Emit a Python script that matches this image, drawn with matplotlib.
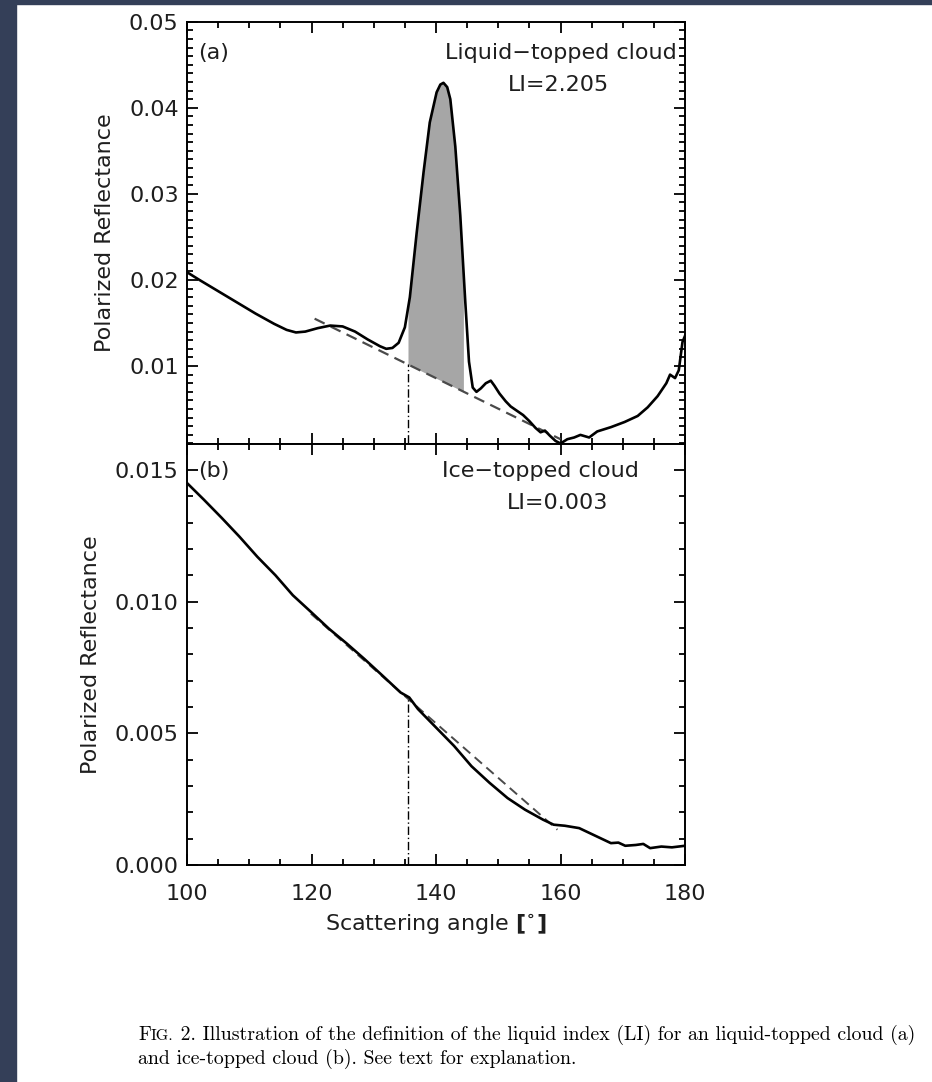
import numpy as np
import matplotlib.pyplot as plt
from matplotlib.patches import Rectangle
from matplotlib.ticker import MultipleLocator, FormatStrFormatter

# (a) liquid-topped cloud: polarized reflectance vs scattering angle
angle_liq = [100, 102, 105, 108, 111, 114, 116, 117.5, 119, 121, 123, 125, 127, 129,
             131, 132, 133, 134, 135, 135.8, 136.9, 138, 139, 140.1, 140.7, 141.2,
             141.8, 142.3, 143.1, 143.9, 144.7, 145.3, 145.9, 146.5, 147.2, 148.0,
             148.8, 149.4, 150.2, 151.2, 152.0, 153.0, 154.0, 155.0, 156.0, 156.8,
             157.5, 158.3, 159.2, 160.0, 161.1, 162.2, 163.2, 164.6, 165.9, 168.1,
             170.3, 172.4, 174.0, 175.6, 177.0, 177.6, 178.4, 179.0, 179.6, 180.0]
refl_liq = [0.0209, 0.0200, 0.0187, 0.0174, 0.0161, 0.0149, 0.0142, 0.0139, 0.0140,
            0.0144, 0.0147, 0.0146, 0.0140, 0.0131, 0.0123, 0.0120, 0.0121, 0.0127,
            0.0145, 0.0180, 0.0255, 0.0325, 0.0383, 0.0418, 0.0427, 0.0429, 0.0424,
            0.0410, 0.0355, 0.0275, 0.0175, 0.0105, 0.0075, 0.0070, 0.0074, 0.0080,
            0.0083, 0.0077, 0.0068, 0.0059, 0.0053, 0.0048, 0.0043, 0.0036, 0.0028,
            0.0023, 0.0025, 0.0019, 0.0013, 0.0010, 0.0015, 0.0017, 0.0020, 0.0017,
            0.0024, 0.0029, 0.0035, 0.0042, 0.0052, 0.0065, 0.0080, 0.0090, 0.0086,
            0.0095, 0.0128, 0.0135]

# (b) ice-topped cloud
angle_ice = [100, 102.7, 105.6, 108.4, 111.3, 114.2, 117.0, 119.9, 122.8, 125.7, 128.5,
             131.4, 134.3, 135.7, 137.1, 140.0, 142.9, 145.7, 148.6, 151.5, 154.3,
             157.2, 158.9, 160.7, 163.0, 164.7, 166.4, 168.1, 169.3, 170.4, 172.1,
             173.3, 174.4, 176.2, 177.9, 180.0]
refl_ice = [0.01450, 0.01387, 0.01317, 0.01247, 0.01170, 0.01100, 0.01024, 0.00961,
            0.00897, 0.00840, 0.00782, 0.00719, 0.00655, 0.00636, 0.00592, 0.00522,
            0.00452, 0.00375, 0.00312, 0.00254, 0.00210, 0.00172, 0.00153, 0.00149,
            0.00140, 0.00121, 0.00102, 0.00083, 0.00085, 0.00073, 0.00076, 0.00080,
            0.00064, 0.00070, 0.00067, 0.00073]

# straight reference lines (end points)
fit_liq_x = [120.5, 160.0]
fit_liq_y = [0.0155, 0.0015]
fit_ice_x = [119.9, 159.5]
fit_ice_y = [0.00954, 0.00134]

li_angle = 135.5
shade_end = 144.4

panel_tags = ['(a)', '(b)']
panel_names = ['Liquid\u2212topped cloud', 'Ice\u2212topped cloud']
li_values = ['LI=2.205', 'LI=0.003']

caption_1 = ' Illustration of the definition of the liquid index (LI) for an liquid-topped cloud (a)'
caption_2 = 'and ice-topped cloud (b). See text for explanation.'

TXT = '#1e1e1e'
W, H = 932, 1082
FS = 16

fig = plt.figure(figsize=(W / 100, H / 100), dpi=100)
fig.patch.set_facecolor('white')
fig.patches.append(Rectangle((0, 0), 16 / W, 1, transform=fig.transFigure,
                             color='#343f58', zorder=0))
fig.patches.append(Rectangle((0, 1 - 4 / H), 1, 4 / H, transform=fig.transFigure,
                             color='#343f58', zorder=0))

left, width = 187 / W, 498 / W
ax1 = fig.add_axes([left, 1 - 443.5 / H, width, (443.5 - 21.7) / H])
ax2 = fig.add_axes([left, 1 - 865 / H, width, (865 - 443.5) / H])

plt.rcParams['font.family'] = 'DejaVu Sans'

for ax in (ax1, ax2):
    ax.set_xlim(100, 180)
    ax.xaxis.set_major_locator(MultipleLocator(20))
    ax.xaxis.set_minor_locator(MultipleLocator(5))
    ax.yaxis.set_minor_locator(MultipleLocator(0.001))
    ax.tick_params(which='both', direction='in', top=True, right=True,
                   width=1.3, colors='black', labelcolor=TXT, labelsize=16)
    ax.tick_params(which='major', length=8)
    ax.tick_params(which='minor', length=4)
    ax.tick_params(axis='y', pad=6)
    ax.tick_params(axis='x', pad=14)
    for s in ax.spines.values():
        s.set_linewidth(1.4)
    ax.set_ylabel('Polarized Reflectance', fontsize=FS, color=TXT, labelpad=10)

# top panel
ax1.set_ylim(0.001, 0.05)
ax1.yaxis.set_major_locator(MultipleLocator(0.01))
ax1.yaxis.set_major_formatter(FormatStrFormatter('%.2f'))
ax1.tick_params(axis='x', labelbottom=False)

xs = np.linspace(li_angle, shade_end, 300)
top = np.interp(xs, angle_liq, refl_liq)
base = np.interp(xs, fit_liq_x, fit_liq_y)
ax1.fill_between(xs, base, top, color='#a6a6a6', lw=0, zorder=1)
ax1.plot(fit_liq_x, fit_liq_y, color='#4a4a4a', lw=1.6, ls=(0, (5, 3)), zorder=2)
ax1.plot(angle_liq, refl_liq, color='black', lw=1.9, zorder=3)
ax1.plot([li_angle, li_angle], [0.001, np.interp(li_angle, fit_liq_x, fit_liq_y)],
         color='black', lw=1.0, ls=(0, (6, 2, 1, 2)), zorder=2)

ax1.text(101.8, 0.0464, panel_tags[0], fontsize=FS, color=TXT, va='center')
ax1.text(178.6, 0.0464, panel_names[0], fontsize=FS, color=TXT, va='center', ha='right')
ax1.text(159.6, 0.0427, li_values[0], fontsize=FS, color=TXT, va='center', ha='center')

# bottom panel
ax2.set_ylim(0, 0.016)
ax2.yaxis.set_major_locator(MultipleLocator(0.005))
ax2.yaxis.set_major_formatter(FormatStrFormatter('%.3f'))
ax2.plot(fit_ice_x, fit_ice_y, color='#4a4a4a', lw=1.4, ls=(0, (5, 3)), zorder=2)
ax2.plot(angle_ice, refl_ice, color='black', lw=1.9, zorder=3)
ax2.plot([li_angle, li_angle], [0, np.interp(li_angle, angle_ice, refl_ice)],
         color='black', lw=1.0, ls=(0, (6, 2, 1, 2)), zorder=2)

ax2.text(101.8, 0.01495, panel_tags[1], fontsize=FS, color=TXT, va='center')
ax2.text(156.7, 0.01495, panel_names[1], fontsize=FS, color=TXT, va='center', ha='center')
ax2.text(159.6, 0.01374, li_values[1], fontsize=FS, color=TXT, va='center', ha='center')
ax2.set_xlabel(r'Scattering angle $\mathbf{[^{\circ}]}$', fontsize=FS, color=TXT,
               labelpad=6)

# figure caption, small caps "Fig."
cap_fs = 14.3
fig.canvas.draw()
r = fig.canvas.get_renderer()
x0, y1 = 138 / W, 1 - 1040 / H
t = fig.text(x0, y1, 'F', family='cmr10', fontsize=cap_fs, color='black')
x = x0 + t.get_window_extent(r).width / W
t = fig.text(x, y1, 'IG.', family='cmr10', fontsize=cap_fs * 0.8, color='black')
x += t.get_window_extent(r).width / W
t = fig.text(x, y1, ' 2.', family='cmr10', fontsize=cap_fs, color='black')
x += t.get_window_extent(r).width / W
fig.text(x, y1, caption_1, family='cmr10', fontsize=cap_fs, color='black')
fig.text(x0, 1 - 1064 / H, caption_2, family='cmr10', fontsize=cap_fs, color='black')

fig.savefig('out.png', dpi=100, facecolor=fig.get_facecolor())
